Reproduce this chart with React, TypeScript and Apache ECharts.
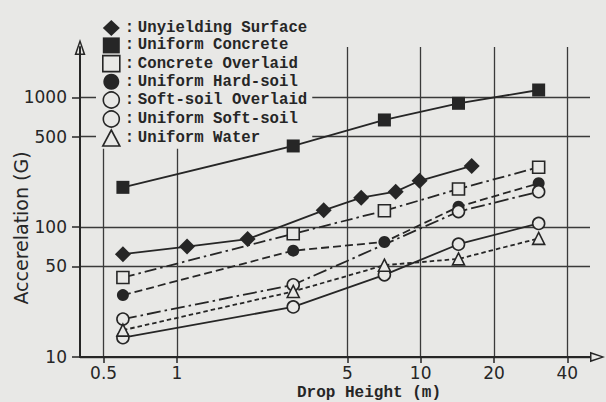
import React, { useEffect, useRef } from 'react';
import * as echarts from 'echarts';

const BG = '#e8e8e6';
const INK = '#262626';
const GRID = '#3a3a3a';
const MONO = '"Liberation Mono", "DejaVu Sans Mono", monospace';
const SANS = '"DejaVu Sans", "Liberation Sans", sans-serif';

// tick values (axis labels)
const xTicks = [0.5, 1, 5, 10, 20, 40];
const yTicks = [10, 50, 100, 500, 1000];

// data: drop height (m) vs acceleration (G)
const unyieldingX = [0.6, 1.1, 1.95, 4, 5.7, 7.9, 9.9, 16.2];
const unyieldingY = [62, 71, 81, 135, 169, 188, 228, 297];
const heights = [0.6, 3, 7.1, 14.3, 30.5];
const concreteY = [203, 423, 671, 902, 1142];
const concreteOverlaidY = [41, 89, 134, 197, 290];
const hardSoilY = [30, 66, 77, 144, 218];
const softOverlaidX = [0.6, 3, 14.3, 30.5];
const softOverlaidY = [19.6, 36, 132, 188];
const softSoilY = [14.1, 24.3, 43, 74, 107];
const waterY = [16.1, 32, 51, 57, 82];

const names = [
  'Unyielding Surface',
  'Uniform Concrete',
  'Concrete Overlaid',
  'Uniform Hard-soil',
  'Soft-soil Overlaid',
  'Uniform Soft-soil',
  'Uniform Water',
];

const lg = Math.log10;
const pts = (xs: number[], ys: number[]) => xs.map((x, i) => [lg(x), lg(ys[i])]);
const fmt = (v: number) => String(Number(Math.pow(10, v).toPrecision(3)));

const ARROW = 'path://M5.5,0L11,16L0,16Z M5.5,4.2L2.2,14.4L8.8,14.4Z';

const filled = { color: INK, borderColor: INK, borderWidth: 0 };
const open = { color: BG, borderColor: INK, borderWidth: 1.6 };

function line(name: string, data: number[][], symbol: string, size: number, item: any, type: any) {
  return {
    name,
    type: 'line',
    data,
    symbol,
    symbolSize: size,
    itemStyle: item,
    lineStyle: { color: INK, width: 1.8, type },
    emphasis: { disabled: true },
    silent: true,
    z: 2,
  };
}

export default function App() {
  const ref = useRef<HTMLDivElement>(null);
  useEffect(() => {
    document.body.style.margin = '0';
    document.body.style.background = BG;
    const chart = echarts.init(ref.current!, null, { renderer: 'svg' });
    const textRich = { fontFamily: MONO, fontSize: 15.7, fontWeight: 'bold', color: INK, lineHeight: 16 };
    chart.setOption({
      animation: false,
      backgroundColor: BG,
      grid: { left: 80, right: 16, top: 47, bottom: 45, containLabel: false },
      xAxis: {
        type: 'value',
        min: lg(0.4),
        max: 1.695,
        axisLine: {
          show: true,
          onZero: false,
          lineStyle: { color: INK, width: 2 },
          symbol: ['none', ARROW],
          symbolSize: [11, 15],
          symbolOffset: [0, 7.5],
        },
        axisTick: { show: true, customValues: xTicks.map(lg), length: 6, lineStyle: { color: INK, width: 1.5 } },
        axisLabel: {
          customValues: xTicks.map(lg),
          formatter: fmt,
          margin: 7,
          fontFamily: SANS,
          fontSize: 17,
          color: INK,
        },
        splitLine: { show: true, lineStyle: { color: GRID, width: 1.3 } },
      },
      yAxis: {
        type: 'value',
        min: 1,
        max: 3.389,
        axisLine: {
          show: true,
          onZero: false,
          lineStyle: { color: INK, width: 2 },
          symbol: ['none', ARROW],
          symbolSize: [11, 16],
          symbolOffset: [0, 0],
        },
        axisTick: { show: true, customValues: yTicks.map(lg), length: 8, lineStyle: { color: INK, width: 1.5 } },
        axisLabel: {
          customValues: yTicks.map(lg),
          formatter: fmt,
          margin: 13,
          fontFamily: SANS,
          fontSize: 17,
          color: INK,
        },
        splitLine: { show: true, lineStyle: { color: GRID, width: 1.3 } },
      },
      legend: {
        orient: 'vertical',
        left: 96,
        top: 15,
        padding: [5, 5, 2, 6],
        itemWidth: 17,
        itemHeight: 16,
        itemGap: 1.4,
        backgroundColor: BG,
        z: 1,
        selectedMode: false,
        data: [
          { name: names[0], icon: 'diamond', itemStyle: filled },
          { name: names[1], icon: 'rect', itemStyle: filled },
          { name: names[2], icon: 'rect', itemStyle: open },
          { name: names[3], icon: 'circle', itemStyle: filled },
          { name: names[4], icon: 'circle', itemStyle: open },
          { name: names[5], icon: 'circle', itemStyle: open },
          { name: names[6], icon: 'triangle', itemStyle: open },
        ],
        formatter: (name: string) => `{c|:}${name}`,
        textStyle: { ...textRich, rich: { c: { ...textRich, width: 13 } } },
      },
      graphic: [
        {
          type: 'text',
          x: 369,
          y: 393,
          style: {
            text: 'Drop Height (m)',
            fontFamily: MONO,
            fontSize: 16,
            fontWeight: 'bold',
            fill: INK,
            align: 'center',
            verticalAlign: 'middle',
          },
        },
        {
          type: 'text',
          x: 21,
          y: 228,
          rotation: Math.PI / 2,
          style: {
            text: 'Accerelation (G)',
            fontFamily: SANS,
            fontSize: 19,
            fill: INK,
            align: 'center',
            verticalAlign: 'middle',
          },
        },
      ],
      series: [
        line(names[0], pts(unyieldingX, unyieldingY), 'diamond', 16, filled, 'solid'),
        line(names[1], pts(heights, concreteY), 'rect', 13, filled, 'solid'),
        line(names[2], pts(heights, concreteOverlaidY), 'rect', 12, open, [12, 4, 2.5, 4]),
        line(names[3], pts(heights, hardSoilY), 'circle', 12, filled, [8, 4]),
        line(names[4], pts(softOverlaidX, softOverlaidY), 'circle', 12, open, [14, 4, 2.5, 4]),
        line(names[5], pts(heights, softSoilY), 'circle', 12, open, 'solid'),
        line(names[6], pts(heights, waterY), 'triangle', 12, open, [4.5, 3]),
      ],
    });
    return () => chart.dispose();
  }, []);
  return <div ref={ref} style={{ width: 606, height: 402, background: BG }} />;
}
